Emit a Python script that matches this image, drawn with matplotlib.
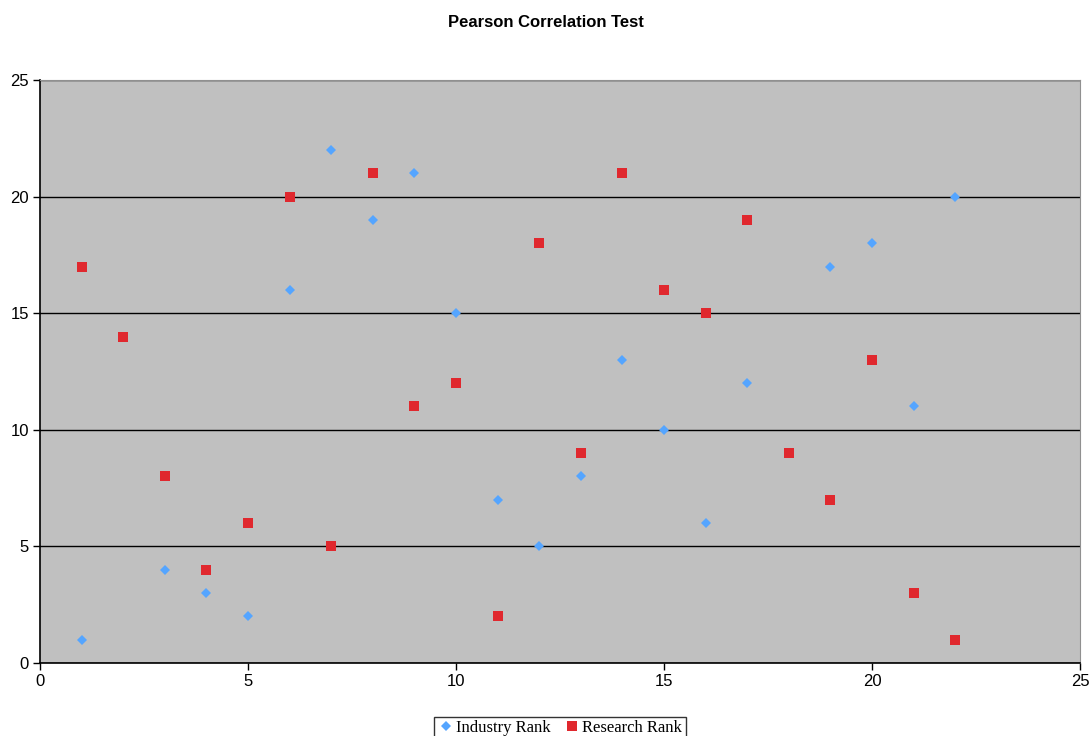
import matplotlib
matplotlib.use("Agg")
import matplotlib.pyplot as plt
from matplotlib.ticker import MultipleLocator

# Datos
rank_x = list(range(1, 23))
industry_rank = [1, 14, 4, 3, 2, 16, 22, 19, 21, 15, 7, 5, 8, 13, 10, 6, 12, 9, 17, 18, 11, 20]
research_rank = [17, 14, 8, 4, 6, 20, 5, 21, 11, 12, 2, 18, 9, 21, 16, 15, 19, 9, 7, 13, 3, 1]

plt.rcParams['font.family'] = ['Liberation Sans', 'DejaVu Sans']

fig = plt.figure(figsize=(10.91, 7.36), dpi=100)
ax = fig.add_axes([40 / 1091, 73 / 736, 1040 / 1091, 583 / 736])
ax.set_facecolor('#c0c0c0')

ax.plot(rank_x, industry_rank, linestyle='none', marker='D', markersize=5.5,
        color='#55a5ff', markeredgewidth=0, label='Industry Rank', zorder=3)
ax.plot(rank_x, research_rank, linestyle='none', marker='s', markersize=7.5,
        color='#e0282e', markeredgewidth=0, label='Research Rank', zorder=4)

ax.set_xlim(0, 25)
ax.set_ylim(0, 25)
ax.xaxis.set_major_locator(MultipleLocator(5))
ax.yaxis.set_major_locator(MultipleLocator(5))
ax.grid(True, axis='y', color='black', linewidth=1)
ax.set_axisbelow(True)

for side in ['top', 'right']:
    ax.spines[side].set_color('#909090')
    ax.spines[side].set_linewidth(0.8)
for side in ['left', 'bottom']:
    ax.spines[side].set_color('black')
    ax.spines[side].set_linewidth(1.2)

ax.tick_params(direction='out', length=5, width=1, labelsize=12, pad=3)

fig.suptitle('Pearson Correlation Test', fontsize=12, fontweight='bold', y=0.979)

leg = ax.legend(loc='upper center', bbox_to_anchor=(0.5, -0.078), ncol=2,
                frameon=True, fancybox=False, handletextpad=0.1, columnspacing=0.8,
                borderpad=0.2, handlelength=1.0, markerscale=0.9,
                prop={'family': 'Liberation Serif', 'size': 12})
leg.get_frame().set_edgecolor('black')
leg.get_frame().set_linewidth(1)

fig.savefig('out.png', dpi=100)
